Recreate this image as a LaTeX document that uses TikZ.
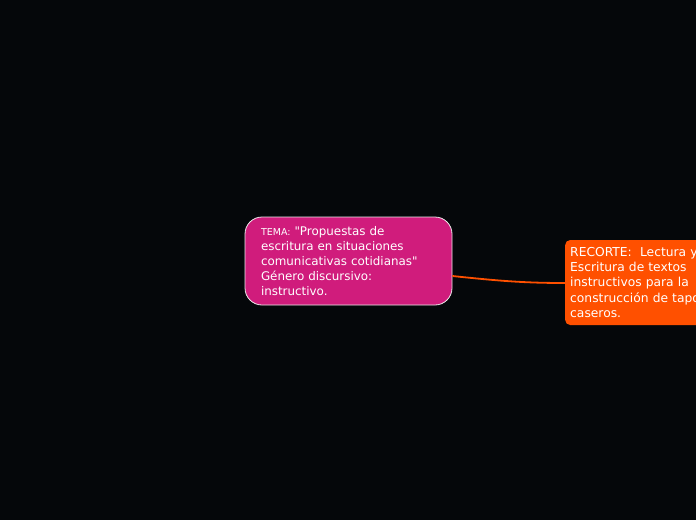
\documentclass[tikz,border=0pt]{standalone}
\usepackage{fontspec}
\setmainfont{DejaVu Sans}
\newfontfamily\dvs{DejaVu Sans}
\definecolor{bg}{HTML}{05070A}
\definecolor{magentabox}{HTML}{D01C7C}
\definecolor{orangebox}{HTML}{FF5000}
\begin{document}
\begin{tikzpicture}[x=1pt,y=-1pt,
  mainbox/.style={draw=white!85!gray, line width=0.8pt, fill=magentabox, rounded corners=17pt,
    minimum width=207pt, minimum height=88pt, text width=175pt, inner xsep=16pt, align=left,
    text=white, font=\dvs\fontsize{11.9}{15}\selectfont},
  subbox/.style={fill=orangebox, rounded corners=5pt, minimum width=170pt, minimum height=85pt,
    text width=160pt, inner xsep=5pt, align=left, text=white, font=\dvs\fontsize{12.3}{15.3}\selectfont},
  link/.style={draw=orangebox, line width=1.8pt}]
\useasboundingbox (0,0) rectangle (696,520);
\clip (0,0) rectangle (696,520);
\fill[bg] (0,0) rectangle (696,520);
\node[mainbox] (tema) at (348.5,261) {{\fontsize{9.5}{15}\selectfont TEMA:} "Propuestas de\\escritura en situaciones\\comunicativas cotidianas"\\Género discursivo:\\instructivo.};
\node[subbox, anchor=west] (recorte) at (565,282.5) {RECORTE:\ \ Lectura y\\Escritura de textos\\instructivos para la\\construcción de tapones\\caseros.};
\draw[link] (tema.east |- 0,276) .. controls (500,281) and (525,283) .. (recorte.west |- 0,283);
\end{tikzpicture}
\end{document}
